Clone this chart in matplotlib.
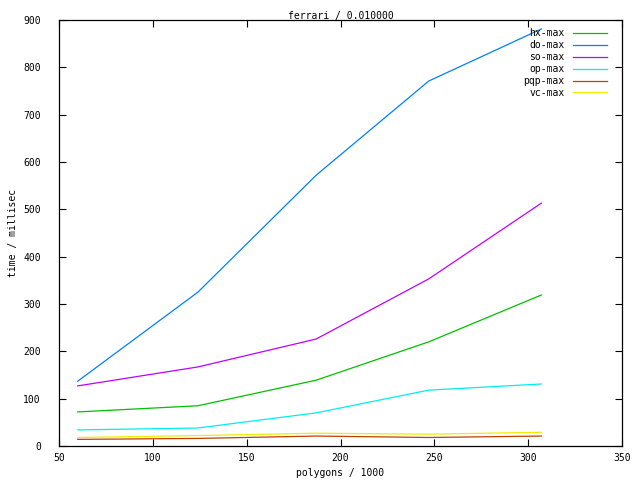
import matplotlib
matplotlib.use("Agg")
import matplotlib.pyplot as plt

polygons = [60, 124, 187, 247, 307]
series_names = ["hx-max", "do-max", "so-max", "op-max", "pqp-max", "vc-max"]
hx_max = [72, 85, 139, 220, 319]
do_max = [137, 325, 572, 771, 881]
so_max = [127, 167, 226, 353, 513]
op_max = [34, 38, 70, 118, 131]
pqp_max = [14, 16, 21, 18, 21]
vc_max = [18, 22, 27, 25, 29]
colors = ["#00c000", "#0080ff", "#c000ff", "#00eeee", "#c04000", "#eeee00"]

x_ticks = [50, 100, 150, 200, 250, 300, 350]
y_ticks = [0, 100, 200, 300, 400, 500, 600, 700, 800, 900]

plt.rcParams['font.family'] = ['DejaVu Sans Mono']
fs = 7
fig = plt.figure(figsize=(6.4, 4.8), dpi=100)
ax = fig.add_axes([59/640, 1-446/480, (622-59)/640, (446-20)/480])

for name, vals, c in zip(series_names, [hx_max, do_max, so_max, op_max, pqp_max, vc_max], colors):
    ax.plot(polygons, vals, color=c, lw=0.9, label=name)

ax.set_xlim(50, 350)
ax.set_ylim(0, 900)
ax.set_xticks(x_ticks)
ax.set_yticks(y_ticks)
ax.tick_params(direction='in', length=5, width=0.8, top=True, right=True, labelsize=fs)
ax.tick_params(axis='x', pad=5)
ax.tick_params(axis='y', pad=13)
for s in ax.spines.values():
    s.set_linewidth(0.9)
ax.set_title("ferrari / 0.010000", fontsize=fs, pad=0.5)
ax.set_xlabel("polygons / 1000", fontsize=fs, labelpad=4)
ax.set_ylabel("time / millisec", fontsize=fs, labelpad=4)

leg = ax.legend(loc='upper right', bbox_to_anchor=(0.981, 0.990), borderaxespad=0,
                frameon=False, fontsize=fs, markerfirst=False,
                handlelength=3.5, labelspacing=0.2, handletextpad=0.9)

fig.savefig("out.png", dpi=100)
